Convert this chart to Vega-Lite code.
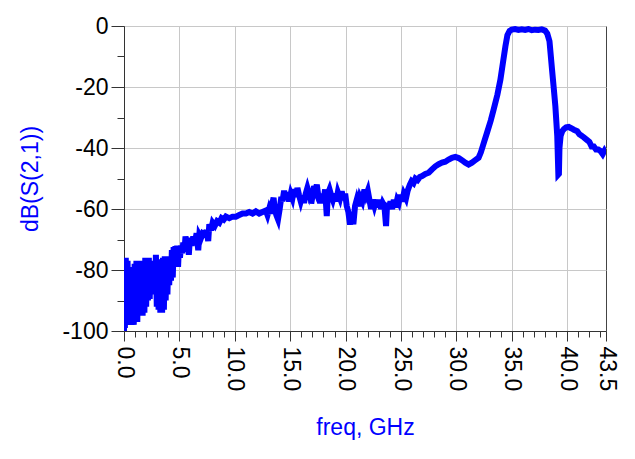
{
  "$schema": "https://vega.github.io/schema/vega-lite/v6.json",
  "width": 482,
  "height": 305,
  "autosize": {"type": "none"},
  "padding": {"left": 124, "top": 26, "right": 29, "bottom": 128},
  "background": "white",
  "config": {"view": {"stroke": "#444", "strokeWidth": 1}, "font": "Liberation Sans"},
  "data": {"values": [
    {"f":0.0,"db":-100},{"f":0.02,"db":-76},{"f":0.08,"db":-99},{"f":0.16,"db":-76},{"f":0.24,"db":-95},{"f":0.32,"db":-77},{"f":0.4,"db":-95},{"f":0.48,"db":-79},{"f":0.56,"db":-98},{"f":0.64,"db":-79.5},{"f":0.72,"db":-98},{"f":0.8,"db":-79.5},{"f":0.88,"db":-98},{"f":0.96,"db":-78},{"f":1.04,"db":-97},{"f":1.12,"db":-77},{"f":1.2,"db":-97},{"f":1.28,"db":-77},{"f":1.36,"db":-95},{"f":1.44,"db":-77},{"f":1.52,"db":-95},{"f":1.6,"db":-77},{"f":1.68,"db":-95},{"f":1.76,"db":-77},{"f":1.84,"db":-94},{"f":1.92,"db":-76},{"f":2.0,"db":-92},{"f":2.08,"db":-76},{"f":2.16,"db":-90},{"f":2.24,"db":-76},{"f":2.32,"db":-89.5},{"f":2.4,"db":-77.5},{"f":2.48,"db":-86},{"f":2.56,"db":-77.5},{"f":2.64,"db":-86},{"f":2.72,"db":-77},{"f":2.8,"db":-88},{"f":2.88,"db":-75},{"f":2.96,"db":-92},{"f":3.04,"db":-76.5},{"f":3.12,"db":-93},{"f":3.2,"db":-76.5},{"f":3.28,"db":-94},{"f":3.36,"db":-76.5},{"f":3.44,"db":-94},{"f":3.52,"db":-76},{"f":3.6,"db":-93},{"f":3.68,"db":-75.5},{"f":3.76,"db":-90},{"f":3.84,"db":-75.5},{"f":3.92,"db":-88},{"f":4.0,"db":-75.5},{"f":4.08,"db":-85},{"f":4.16,"db":-75.5},{"f":4.24,"db":-83.5},{"f":4.32,"db":-73.5},{"f":4.4,"db":-82.5},{"f":4.48,"db":-72.5},{"f":4.56,"db":-78},{"f":4.64,"db":-72.2},{"f":4.72,"db":-78.5},{"f":4.8,"db":-72},{"f":4.88,"db":-79},{"f":4.96,"db":-72},{"f":5.05,"db":-76},{"f":5.15,"db":-72},{"f":5.25,"db":-74.5},{"f":5.35,"db":-71},{"f":5.45,"db":-74},{"f":5.55,"db":-69},{"f":5.65,"db":-72},{"f":5.75,"db":-70},{"f":5.85,"db":-75},{"f":5.95,"db":-69.5},{"f":6.1,"db":-72},{"f":6.25,"db":-69},{"f":6.4,"db":-71},{"f":6.55,"db":-68},{"f":6.7,"db":-73.5},{"f":6.8,"db":-68.5},{"f":6.95,"db":-69.5},{"f":7.1,"db":-68},{"f":7.3,"db":-68.5},{"f":7.45,"db":-67},{"f":7.6,"db":-70.5},{"f":7.7,"db":-65},{"f":7.85,"db":-67},{"f":8.0,"db":-64.5},{"f":8.2,"db":-65.5},{"f":8.4,"db":-64},{"f":8.6,"db":-64.5},{"f":8.8,"db":-63},{"f":9.0,"db":-63.5},{"f":9.2,"db":-62.5},{"f":9.5,"db":-63},{"f":9.8,"db":-62.5},{"f":10.1,"db":-62.5},{"f":10.4,"db":-62},{"f":10.7,"db":-61.5},{"f":11.0,"db":-61.5},{"f":11.3,"db":-61},{"f":11.6,"db":-61.5},{"f":11.9,"db":-60.8},{"f":12.2,"db":-61.5},{"f":12.5,"db":-61},{"f":12.8,"db":-60.5},{"f":12.95,"db":-62},{"f":13.1,"db":-60},{"f":13.25,"db":-61.5},{"f":13.4,"db":-58},{"f":13.5,"db":-56.3},{"f":13.6,"db":-60},{"f":13.75,"db":-62},{"f":13.9,"db":-63.4},{"f":14.05,"db":-60},{"f":14.2,"db":-56},{"f":14.3,"db":-57.5},{"f":14.45,"db":-54},{"f":14.6,"db":-56.9},{"f":14.75,"db":-54.5},{"f":14.9,"db":-57.5},{"f":15.05,"db":-55},{"f":15.2,"db":-56.5},{"f":15.35,"db":-53.5},{"f":15.5,"db":-56},{"f":15.65,"db":-53.1},{"f":15.8,"db":-55.5},{"f":15.95,"db":-57.5},{"f":16.1,"db":-55.5},{"f":16.25,"db":-58},{"f":16.4,"db":-55},{"f":16.55,"db":-53.1},{"f":16.7,"db":-55},{"f":16.8,"db":-53.5},{"f":16.9,"db":-58.2},{"f":17.0,"db":-56},{"f":17.15,"db":-52.5},{"f":17.3,"db":-54},{"f":17.4,"db":-52},{"f":17.55,"db":-56},{"f":17.7,"db":-58},{"f":17.85,"db":-55},{"f":18.0,"db":-57.5},{"f":18.15,"db":-53.6},{"f":18.3,"db":-62.3},{"f":18.4,"db":-55},{"f":18.55,"db":-53.6},{"f":18.7,"db":-55.5},{"f":18.85,"db":-57},{"f":19.0,"db":-55},{"f":19.15,"db":-57.5},{"f":19.3,"db":-54.5},{"f":19.5,"db":-56.5},{"f":19.65,"db":-54.2},{"f":19.8,"db":-57},{"f":19.96,"db":-55},{"f":20.1,"db":-59},{"f":20.25,"db":-61},{"f":20.4,"db":-65.1},{"f":20.55,"db":-62},{"f":20.7,"db":-65},{"f":20.85,"db":-59},{"f":21.0,"db":-57},{"f":21.15,"db":-59.1},{"f":21.3,"db":-56},{"f":21.5,"db":-57.5},{"f":21.7,"db":-53.6},{"f":21.85,"db":-55.5},{"f":22.0,"db":-54},{"f":22.15,"db":-57},{"f":22.3,"db":-60},{"f":22.45,"db":-57},{"f":22.6,"db":-59},{"f":22.75,"db":-57},{"f":22.9,"db":-59.5},{"f":23.05,"db":-57},{"f":23.2,"db":-60},{"f":23.35,"db":-58},{"f":23.5,"db":-59},{"f":23.65,"db":-65.6},{"f":23.75,"db":-58},{"f":23.9,"db":-60},{"f":24.05,"db":-57.5},{"f":24.2,"db":-60},{"f":24.35,"db":-57},{"f":24.5,"db":-59.5},{"f":24.65,"db":-57},{"f":24.8,"db":-58},{"f":24.95,"db":-55.4},{"f":25.1,"db":-57.5},{"f":25.25,"db":-55},{"f":25.45,"db":-56.5},{"f":25.6,"db":-54},{"f":25.8,"db":-52},{"f":25.95,"db":-50.9},{"f":26.13,"db":-51.5},{"f":26.3,"db":-50},{"f":26.5,"db":-50.5},{"f":26.7,"db":-49.5},{"f":26.9,"db":-49.2},{"f":27.2,"db":-48.5},{"f":27.5,"db":-48.1},{"f":27.8,"db":-47},{"f":28.1,"db":-46},{"f":28.4,"db":-45.3},{"f":28.7,"db":-44.8},{"f":29.0,"db":-44.5},{"f":29.3,"db":-43.8},{"f":29.6,"db":-43.2},{"f":29.9,"db":-42.9},{"f":30.2,"db":-43.3},{"f":30.5,"db":-44},{"f":30.8,"db":-44.8},{"f":31.1,"db":-45.4},{"f":31.4,"db":-44.8},{"f":31.7,"db":-44},{"f":32.0,"db":-43.2},{"f":32.2,"db":-41.5},{"f":32.5,"db":-38},{"f":32.76,"db":-35},{"f":33.1,"db":-31},{"f":33.36,"db":-27.4},{"f":33.7,"db":-22.5},{"f":33.97,"db":-17.6},{"f":34.2,"db":-12},{"f":34.42,"db":-6.7},{"f":34.6,"db":-3},{"f":34.8,"db":-1.6},{"f":35.0,"db":-1.2},{"f":35.3,"db":-1.0},{"f":35.6,"db":-1.3},{"f":35.9,"db":-1.1},{"f":36.2,"db":-1.3},{"f":36.5,"db":-1.0},{"f":36.8,"db":-1.4},{"f":37.1,"db":-1.2},{"f":37.4,"db":-1.3},{"f":37.7,"db":-1.1},{"f":38.0,"db":-1.5},{"f":38.2,"db":-2.5},{"f":38.4,"db":-5},{"f":38.63,"db":-14.3},{"f":38.8,"db":-21},{"f":38.93,"db":-26.3},{"f":39.1,"db":-36},{"f":39.2,"db":-48.7},{"f":39.25,"db":-48.5},{"f":39.3,"db":-40},{"f":39.4,"db":-36.1},{"f":39.55,"db":-34.5},{"f":39.7,"db":-33.8},{"f":39.9,"db":-33.2},{"f":40.13,"db":-33.1},{"f":40.4,"db":-33.6},{"f":40.6,"db":-34},{"f":40.9,"db":-34.5},{"f":41.1,"db":-35.5},{"f":41.3,"db":-36},{"f":41.5,"db":-36.5},{"f":41.8,"db":-37.4},{"f":42.0,"db":-38},{"f":42.2,"db":-39.5},{"f":42.4,"db":-39.5},{"f":42.6,"db":-40.5},{"f":42.8,"db":-40.5},{"f":43.0,"db":-41},{"f":43.2,"db":-42},{"f":43.35,"db":-41},{"f":43.5,"db":-42}
  ]},
  "mark": {"type": "line", "color": "#0000ff", "strokeWidth": 6, "clip": true},
  "encoding": {
    "x": {
      "field": "f", "type": "quantitative",
      "scale": {"domain": [0, 43.5], "nice": false, "zero": false},
      "axis": {
        "title": "freq, GHz",
        "values": [0,1,2,3,4,5,6,7,8,9,10,11,12,13,14,15,16,17,18,19,20,21,22,23,24,25,26,27,28,29,30,31,32,33,34,35,36,37,38,39,40,41,42,43,43.5],
        "labelExpr": "(datum.value % 5 === 0 || datum.value === 43.5) ? format(datum.value, '.1f') : ''",
        "labelAngle": 90,
        "labelFontSize": 23,
        "labelColor": "black",
        "labelFlush": false,
        "labelOverlap": false,
        "labelBound": false,
        "labelPadding": 5,
        "tickColor": "#333",
        "tickSize": {"condition": {"test": "datum.value % 5 === 0 || datum.value === 43.5", "value": 10}, "value": 6},
        "grid": true,
        "gridColor": "#c8c8c8",
        "gridWidth": 1,
        "gridOpacity": {"condition": {"test": "datum.value % 5 === 0", "value": 1}, "value": 0},
        "domainColor": "#333",
        "titleColor": "#0000ff",
        "titleFontSize": 23,
        "titleFontWeight": "normal",
        "titlePadding": 26
      }
    },
    "y": {
      "field": "db", "type": "quantitative",
      "scale": {"domain": [-100, 0], "nice": false, "zero": false},
      "axis": {
        "title": "dB(S(2,1))",
        "values": [-100,-90,-80,-70,-60,-50,-40,-30,-20,-10,0],
        "labelExpr": "datum.value % 20 === 0 ? '' + datum.value : ''",
        "labelFontSize": 23,
        "labelColor": "black",
        "labelFlush": false,
        "labelOverlap": false,
        "labelBound": false,
        "labelPadding": 3,
        "tickColor": "#333",
        "tickSize": {"condition": {"test": "datum.value % 20 === 0", "value": 13}, "value": 7},
        "grid": true,
        "gridColor": "#c8c8c8",
        "gridWidth": 1,
        "gridOpacity": {"condition": {"test": "datum.value % 20 === 0", "value": 1}, "value": 0},
        "domainColor": "#333",
        "titleColor": "#0000ff",
        "titleFontSize": 23,
        "titleFontWeight": "normal",
        "titlePadding": 19
      }
    }
  }
}
